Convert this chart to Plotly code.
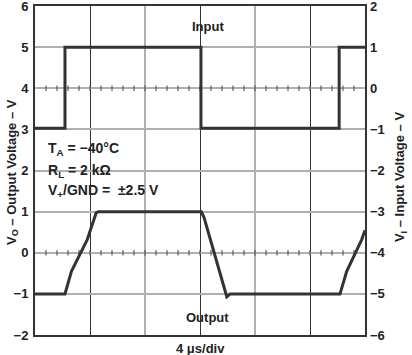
import numpy as np
import plotly.graph_objects as go

# time in microseconds (4 us/div, 6 divisions)
input_t = [0, 2.18, 2.18, 12.07, 12.07, 22.12, 22.12, 24]
input_v = [-0.97, -0.97, 1.0, 1.0, -0.97, -0.97, 1.0, 1.0]

output_t = [0, 2.18, 2.65, 3.8, 4.45, 4.6, 12.1, 12.3, 13.95, 14.2, 22.18, 22.67, 23.76, 24]
output_v = [-1.0, -1.0, -0.45, 0.32, 0.97, 1.0, 1.0, 0.85, -1.07, -1.0, -1.0, -0.45, 0.32, 0.55]

left_ticks = [-2, -1, 0, 1, 2, 3, 4, 5, 6]
right_ticks = [-6, -5, -4, -3, -2, -1, 0, 1, 2]
graticule_rows = [4, 0]

FONT = "Liberation Sans"
DARK = "#333333"
GRAY = "#b0b0b0"

fig = go.Figure()

# graticule minor ticks on the rows
minor_x = np.arange(0.8, 24, 0.8)
for row in graticule_rows:
    fig.add_trace(go.Scatter(
        x=minor_x, y=[row] * len(minor_x), mode="markers",
        marker=dict(symbol="line-ns", size=4, line=dict(width=1, color="#444444")),
        hoverinfo="skip", showlegend=False, yaxis="y"))

fig.add_trace(go.Scatter(x=output_t, y=output_v, mode="lines",
                         line=dict(color=DARK, width=3), showlegend=False, yaxis="y"))
fig.add_trace(go.Scatter(x=input_t, y=input_v, mode="lines",
                         line=dict(color=DARK, width=3, shape="linear"), showlegend=False, yaxis="y2"))

fig.update_layout(
    template="none",
    width=412, height=355,
    margin=dict(l=35, r=47, t=6, b=20, autoexpand=False),
    paper_bgcolor="white", plot_bgcolor="white",
    font=dict(family=FONT, size=13, color="#222222"),
    xaxis=dict(range=[0, 24], showticklabels=False, ticks="", automargin=False,
               tickvals=[8, 16], showgrid=True, gridcolor=GRAY, gridwidth=1.5,
               minor=dict(tickvals=[4, 12, 20], showgrid=True, gridcolor=DARK, gridwidth=1, ticks=""),
               showline=True, mirror=True, linecolor=DARK, linewidth=2, zeroline=False),
    yaxis=dict(range=[-2, 6], tickvals=left_ticks, ticks="", showgrid=True, automargin=False,
               gridcolor=GRAY, gridwidth=1.5, zeroline=False,
               showline=True, mirror=True, linecolor=DARK, linewidth=2,
               tickfont=dict(family=FONT, size=13, weight="bold", color="#222222"),
               ticklabelstandoff=2, ticklabeloverflow="allow"),
    yaxis2=dict(range=[-6, 2], tickvals=right_ticks, overlaying="y", side="right",
                ticks="", showgrid=False, zeroline=False, showline=False, automargin=False,
                tickfont=dict(family=FONT, size=13, weight="bold", color="#222222"),
                ticklabelstandoff=4, ticklabeloverflow="allow"),
)

bold = dict(family=FONT, size=13, weight="bold", color="#222222")
ann = [
    dict(text="V<sub>O</sub> – Output Voltage – V", xref="paper", yref="paper",
         x=-0.07, y=0.495, textangle=-90, showarrow=False, font=bold,
         xanchor="center", yanchor="middle"),
    dict(text="V<sub>I</sub> – Input Voltage – V", xref="paper", yref="paper",
         x=1.106, y=0.48, textangle=-90, showarrow=False, font=bold,
         xanchor="center", yanchor="middle"),
    dict(text="Input", xref="x", yref="y", x=12.58, y=5.5, showarrow=False, font=bold),
    dict(text="Output", xref="x", yref="y", x=12.58, y=-1.58, showarrow=False, font=bold),
    dict(text="4 μs/div", xref="paper", yref="paper", x=0.5, y=-0.04,
         showarrow=False, font=bold, yanchor="middle"),
    dict(text="T<sub>A</sub> = −40°C", xref="paper", yref="y", x=0.033, y=2.52,
         xanchor="left", yanchor="middle", showarrow=False, font=dict(bold, size=14)),
    dict(text="R<sub>L</sub> = 2 kΩ", xref="paper", yref="y", x=0.033, y=2.0,
         xanchor="left", yanchor="middle", showarrow=False, font=dict(bold, size=14)),
    dict(text="V<sub>+</sub>/GND =  ±2.5 V", xref="paper", yref="y", x=0.033, y=1.5,
         xanchor="left", yanchor="middle", showarrow=False, font=dict(bold, size=14)),
]
fig.update_layout(annotations=ann)

fig.write_html("out.html")
